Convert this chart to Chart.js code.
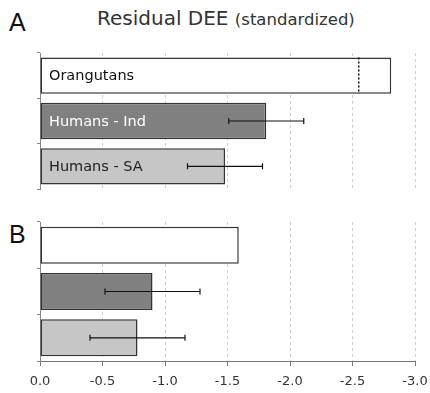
<!DOCTYPE html>
<html>
<head>
<meta charset="utf-8">
<script src="https://cdn.jsdelivr.net/npm/chart.js@4/dist/chart.umd.min.js"></script>
<style>
  body { margin: 0; background: #fff; }
  #wrap { position: relative; width: 430px; height: 393px; font-family: "DejaVu Sans", Verdana, sans-serif; }
  .panel { position: absolute; left: 0; width: 430px; }
  .letter { position: absolute; left: 9px; font: 25px "Liberation Sans", Arial, sans-serif; color: #111; }
  #title { position: absolute; left: 97px; top: 6px; font-size: 20px; color: #333; white-space: nowrap; }
  #title small { font-size: 16.5px; }
</style>
</head>
<body>
<div id="wrap">
  <div class="letter" style="top:8px">A</div>
  <div class="letter" style="top:220px">B</div>
  <div id="title">Residual DEE <small>(standardized)</small></div>
  <div class="panel" style="top:0;height:195px"><canvas id="chartA"></canvas></div>
  <div class="panel" style="top:195px;height:198px"><canvas id="chartB"></canvas></div>
</div>
<script>
// values
const categories = ['Orangutans', 'Humans - Ind', 'Humans - SA'];
const deeA = [-2.81, -1.81, -1.48];
const errA = [null, 0.30, 0.30];
const deeB = [-1.59, -0.90, -0.78];
const errB = [null, 0.38, 0.38];
const markerA = -2.55;

const barColors = ['#ffffff', '#808080', '#c6c6c6'];
const labelColors = ['#111', '#fff', '#222'];

// error bars + optional dotted marker + inside labels
const extras = {
  id: 'extras',
  afterDatasetsDraw(chart, args, opts) {
    const ctx = chart.ctx;
    const x = chart.scales.x;
    const meta = chart.getDatasetMeta(0);
    ctx.save();
    opts.errors.forEach((e, i) => {
      if (e == null) return;
      const v = chart.data.datasets[0].data[i];
      const x1 = x.getPixelForValue(v + e), x2 = x.getPixelForValue(v - e);
      const cy = meta.data[i].y;
      ctx.strokeStyle = '#111';
      ctx.lineWidth = 1.2;
      ctx.beginPath();
      ctx.moveTo(x1, cy); ctx.lineTo(x2, cy);
      ctx.moveTo(x1, cy - 3); ctx.lineTo(x1, cy + 3);
      ctx.moveTo(x2, cy - 3); ctx.lineTo(x2, cy + 3);
      ctx.stroke();
    });
    if (opts.marker != null) {
      const bar = meta.data[0];
      const mx = x.getPixelForValue(opts.marker);
      ctx.strokeStyle = '#111';
      ctx.lineWidth = 1.5;
      ctx.setLineDash([2, 2]);
      ctx.beginPath();
      ctx.moveTo(mx, bar.y - bar.height / 2);
      ctx.lineTo(mx, bar.y + bar.height / 2);
      ctx.stroke();
      ctx.setLineDash([]);
    }
    if (opts.labels) {
      ctx.font = '14.5px "DejaVu Sans", Verdana, sans-serif';
      ctx.textBaseline = 'middle';
      categories.forEach((c, i) => {
        ctx.fillStyle = labelColors[i];
        ctx.fillText(c, x.left + 9, meta.data[i].y + 1);
      });
    }
    ctx.restore();
  }
};

function makeChart(id, values, errors, marker, showAxis) {
  new Chart(document.getElementById(id), {
    type: 'bar',
    data: {
      labels: categories,
      datasets: [{
        data: values,
        backgroundColor: barColors,
        borderColor: '#333',
        borderWidth: 1.5,
        borderSkipped: false,
        barPercentage: 0.8,
        categoryPercentage: 1
      }]
    },
    options: {
      indexAxis: 'y',
      responsive: true,
      maintainAspectRatio: false,
      animation: false,
      events: [],
      layout: {
        padding: showAxis ? { top: 27, left: 37, right: 15, bottom: 0 }
                          : { top: 53, left: 37, right: 15, bottom: 6 }
      },
      plugins: {
        legend: { display: false },
        tooltip: { enabled: false },
        extras: { errors: errors, marker: marker, labels: !showAxis }
      },
      scales: {
        x: {
          type: 'linear',
          min: -3,
          max: 0,
          reverse: true,
          grid: {
            color: '#cfcfcf',
            drawTicks: showAxis,
            tickLength: 5,
            tickColor: '#777'
          },
          border: { display: showAxis, color: '#777', dash: [3, 3] },
          ticks: {
            display: showAxis,
            stepSize: 0.5,
            padding: 8,
            color: '#333',
            font: { family: '"DejaVu Sans", Verdana, sans-serif', size: 13 },
            callback: v => v.toFixed(1)
          },
          afterFit: s => {
            s.height = showAxis ? 32 : 0;
            s.paddingLeft = 0;
            s.paddingRight = 0;
          }
        },
        y: {
          type: 'category',
          offset: true,
          grid: {
            drawOnChartArea: false,
            drawTicks: true,
            tickLength: 3,
            color: '#888'
          },
          border: { color: '#888' },
          ticks: { display: false },
          afterFit: s => { s.width = 3; s.paddingTop = 0; s.paddingBottom = 0; }
        }
      }
    },
    plugins: [extras]
  });
}

makeChart('chartA', deeA, errA, markerA, false);
makeChart('chartB', deeB, errB, null, true);
</script>
</body>
</html>
